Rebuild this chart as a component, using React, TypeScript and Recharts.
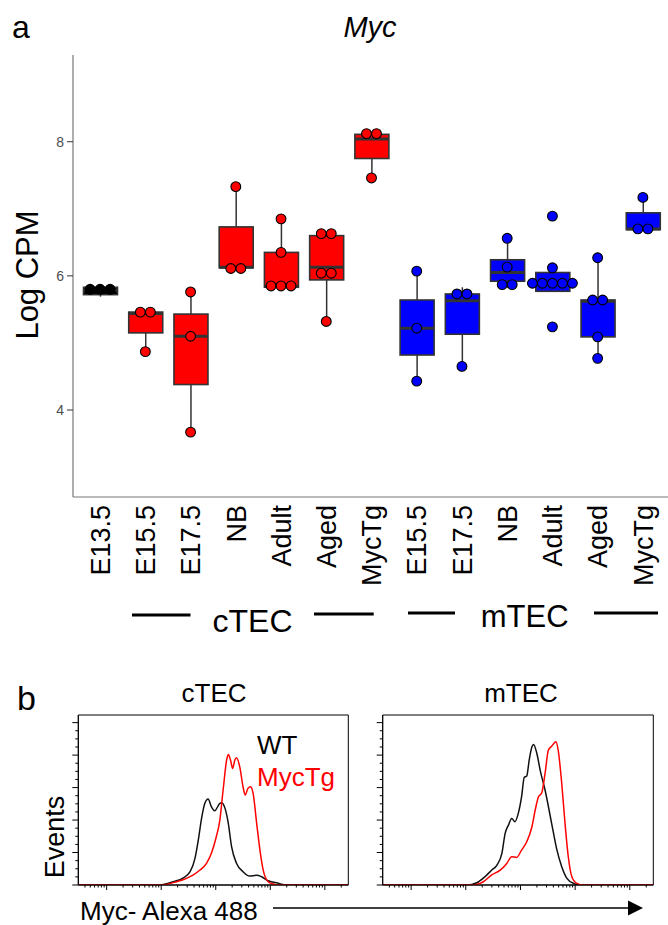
import React from 'react';
import { ComposedChart, Bar, Line, XAxis, YAxis, ReferenceArea } from 'recharts';

const FONT = "'Liberation Sans', Arial, Helvetica, sans-serif";

// ---------- Panel a: box plots ----------
const stages = ['E13.5', 'E15.5', 'E17.5', 'NB', 'Adult', 'Aged', 'MycTg', 'E15.5', 'E17.5', 'NB', 'Adult', 'Aged', 'MycTg'];
const lineages = ['TEC', 'cTEC', 'cTEC', 'cTEC', 'cTEC', 'cTEC', 'cTEC', 'mTEC', 'mTEC', 'mTEC', 'mTEC', 'mTEC', 'mTEC'];
const whiskerLow = [5.69, 4.87, 3.67, 6.11, 5.83, 5.32, 7.46, 4.43, 4.65, 5.82, 5.77, 4.77, 6.69];
const quartile1 = [5.72, 5.15, 4.38, 6.12, 5.83, 5.94, 7.75, 4.82, 5.13, 5.92, 5.77, 5.09, 6.69];
const medians = [5.79, 5.44, 5.10, 6.13, 5.84, 6.13, 8.04, 5.22, 5.63, 6.05, 5.89, 5.62, 6.70];
const quartile3 = [5.83, 5.46, 5.43, 6.73, 6.35, 6.60, 8.11, 5.64, 5.73, 6.24, 6.05, 5.64, 6.94];
const whiskerHigh = [5.87, 5.47, 5.76, 7.33, 6.85, 6.63, 8.13, 6.07, 5.83, 6.56, 6.12, 6.27, 7.17];
const samples: number[][] = [
  [5.8, 5.8, 5.8],
  [5.46, 5.46, 4.87],
  [5.76, 5.1, 3.67],
  [7.33, 6.11, 6.11],
  [6.85, 6.35, 5.85, 5.85, 5.85],
  [6.63, 6.63, 6.04, 6.04, 5.32],
  [8.12, 8.12, 7.46],
  [6.07, 5.22, 4.43],
  [5.73, 5.73, 4.65],
  [6.56, 6.13, 5.87, 5.87],
  [6.89, 6.12, 5.89, 5.89, 5.89, 5.89, 5.89, 5.24],
  [6.27, 5.64, 5.64, 5.09, 4.77],
  [7.17, 6.7, 6.7],
];
const yTicksA = [4, 6, 8];

const lineageFill: Record<string, string> = { TEC: '#000000', cTEC: '#FF0000', mTEC: '#0000FF' };
const MAX_DOTS = 8;
const DOT_STEP = 10;

const rows = stages.map((stage, i) => {
  const row: any = {
    key: `${lineages[i]}|${stage}`,
    lineage: lineages[i],
    whisker: [whiskerLow[i], whiskerHigh[i]],
    box: [quartile1[i], quartile3[i]],
    med: [medians[i], medians[i]],
  };
  const pts = samples[i];
  pts.forEach((v, j) => {
    const same = pts.filter((w) => w === v).length;
    const rank = pts.slice(0, j).filter((w) => w === v).length;
    row[`p${j}`] = v;
    row[`s${j}`] = rank - (same - 1) / 2;
  });
  return row;
});

const okNum = (...v: any[]) => v.every((n) => typeof n === 'number' && Number.isFinite(n));

const WhiskerShape = (p: any) => {
  const { x, y, width, height } = p;
  if (!okNum(x, y, width, height)) return <g />;
  const cx = x + width / 2;
  return <line x1={cx} x2={cx} y1={y} y2={y + height} stroke="#333333" strokeWidth={1.5} />;
};

const BoxShape = (p: any) => {
  const { x, y, width, height, payload } = p;
  if (!okNum(x, y, width, height)) return <g />;
  const top = Math.min(y, y + height);
  return (
    <rect x={x} y={top} width={width} height={Math.abs(height)}
      fill={lineageFill[payload.lineage]} stroke="#333333" strokeWidth={1.6} />
  );
};

const MedianShape = (p: any) => {
  const { x, y, width, height } = p;
  if (!okNum(x, y, width)) return <g />;
  const my = y + (okNum(height) ? height / 2 : 0);
  return <line x1={x} x2={x + width} y1={my} y2={my} stroke="#333333" strokeWidth={3} />;
};

const makeDot = (k: number) => (p: any) => {
  const { cx, cy, payload, index } = p;
  const key = `dot-${k}-${index}`;
  if (!payload || payload[`p${k}`] == null || !okNum(cx, cy)) return <g key={key} />;
  const off = payload[`s${k}`] * DOT_STEP;
  return (
    <circle key={key} cx={cx + off} cy={cy} r={4.9}
      fill={lineageFill[payload.lineage]} stroke="#000000" strokeWidth={1.1} />
  );
};

const StageTick = (p: any) => {
  const { x, y, payload } = p;
  const label = String(payload.value).split('|')[1];
  return (
    <text transform={`translate(${x},${y}) rotate(-90)`} textAnchor="end" dy="0.36em"
      fontSize={27} fontFamily={FONT} fill="#000000">{label}</text>
  );
};

// ---------- Panel b: flow histograms (x = log10 fluorescence, y = % of max) ----------
const cTecWT = [
  { d: 0.48, v: 0 }, { d: 1.976, v: 0 }, { d: 2.22, v: 2 }, { d: 2.4, v: 4.3 }, { d: 2.53, v: 8.2 },
  { d: 2.62, v: 16.6 }, { d: 2.68, v: 27.7 }, { d: 2.74, v: 41 }, { d: 2.8, v: 50.3 }, { d: 2.86, v: 52.9 },
  { d: 2.92, v: 48.2 }, { d: 2.98, v: 45.7 }, { d: 3.075, v: 50.3 }, { d: 3.11, v: 50.7 }, { d: 3.17, v: 47.2 },
  { d: 3.23, v: 38 }, { d: 3.29, v: 23.6 }, { d: 3.38, v: 13.4 }, { d: 3.5, v: 8.2 }, { d: 3.62, v: 5.5 },
  { d: 3.75, v: 6 }, { d: 3.84, v: 5.1 }, { d: 3.96, v: 2.6 }, { d: 4.11, v: 1.4 }, { d: 4.3, v: 0 }, { d: 5.43, v: 0 },
];
const cTecMycTg = [
  { d: 0.48, v: 0 }, { d: 1.98, v: 0 }, { d: 2.28, v: 2 }, { d: 2.465, v: 4.1 }, { d: 2.59, v: 6.2 },
  { d: 2.71, v: 9.2 }, { d: 2.83, v: 13.3 }, { d: 2.92, v: 19.5 }, { d: 3.01, v: 29.7 }, { d: 3.075, v: 40 },
  { d: 3.135, v: 58.5 }, { d: 3.2, v: 77 }, { d: 3.23, v: 80.4 }, { d: 3.27, v: 77 }, { d: 3.31, v: 71.8 },
  { d: 3.35, v: 77 }, { d: 3.38, v: 78.4 }, { d: 3.44, v: 72.8 }, { d: 3.5, v: 60.5 }, { d: 3.54, v: 55.4 },
  { d: 3.59, v: 59.5 }, { d: 3.64, v: 60.5 }, { d: 3.685, v: 56.4 }, { d: 3.75, v: 38 }, { d: 3.81, v: 21.5 },
  { d: 3.87, v: 9.2 }, { d: 3.96, v: 2 }, { d: 4.05, v: 0.6 }, { d: 4.17, v: 0 }, { d: 5.43, v: 0 },
];
const mTecWT = [
  { d: 0.48, v: 0 }, { d: 2.02, v: 0 }, { d: 2.2, v: 1.4 }, { d: 2.35, v: 5.1 }, { d: 2.475, v: 9.2 },
  { d: 2.57, v: 12.3 }, { d: 2.66, v: 19.5 }, { d: 2.72, v: 31.8 }, { d: 2.78, v: 36.9 }, { d: 2.84, v: 41 },
  { d: 2.9, v: 39 }, { d: 2.96, v: 44.1 }, { d: 3.02, v: 54.3 }, { d: 3.07, v: 66.3 }, { d: 3.115, v: 67.1 },
  { d: 3.16, v: 77 }, { d: 3.21, v: 85.1 }, { d: 3.24, v: 86.6 }, { d: 3.3, v: 81 }, { d: 3.36, v: 70.8 },
  { d: 3.45, v: 58.5 }, { d: 3.57, v: 38 }, { d: 3.66, v: 22.6 }, { d: 3.755, v: 11.3 }, { d: 3.85, v: 4.1 },
  { d: 3.97, v: 1 }, { d: 4.12, v: 0 }, { d: 5.43, v: 0 },
];
const mTecMycTg = [
  { d: 0.48, v: 0 }, { d: 2.14, v: 0 }, { d: 2.32, v: 2 }, { d: 2.475, v: 6.2 }, { d: 2.63, v: 9.2 },
  { d: 2.75, v: 13.3 }, { d: 2.84, v: 17.4 }, { d: 2.93, v: 17 }, { d: 3.02, v: 21.5 }, { d: 3.115, v: 26.6 },
  { d: 3.21, v: 35.9 }, { d: 3.27, v: 46.2 }, { d: 3.33, v: 54.3 }, { d: 3.39, v: 56.8 }, { d: 3.45, v: 68.7 },
  { d: 3.51, v: 83 }, { d: 3.57, v: 85.5 }, { d: 3.65, v: 88.2 }, { d: 3.69, v: 83 }, { d: 3.755, v: 62.6 },
  { d: 3.815, v: 38 }, { d: 3.875, v: 17.4 }, { d: 3.94, v: 5.1 }, { d: 4.03, v: 1 }, { d: 4.15, v: 0 }, { d: 5.43, v: 0 },
];

const FLOW_X_DOMAIN = [0.48, 5.43];
const FLOW_Y_DOMAIN = [0, 104.7];
const flowMajorX = [1, 2, 3, 4, 5];
const decadeSteps = [0.301, 0.477, 0.602, 0.699, 0.778, 0.845, 0.903, 0.954];
const flowXTicks: number[] = [];
[0, 1, 2, 3, 4, 5].forEach((dec) => {
  if (dec > 0) flowXTicks.push(dec);
  decadeSteps.forEach((s) => {
    const t = +(dec + s).toFixed(3);
    if (t > FLOW_X_DOMAIN[0] && t < FLOW_X_DOMAIN[1]) flowXTicks.push(t);
  });
});
flowXTicks.sort((a, b) => a - b);
const flowYTicks = [0, 5, 10, 15, 20, 25, 30, 35, 40, 45, 50, 55, 60, 65, 70, 75, 80, 85, 90, 95, 100];

const FlowXTick = (p: any) => {
  const { x, y, payload } = p;
  const major = flowMajorX.includes(payload.value);
  return <line x1={x} x2={x} y1={y} y2={y + (major ? 5 : 2.5)} stroke="#000000" strokeWidth={1} />;
};
const FlowYTick = (p: any) => {
  const { x, y, payload } = p;
  const major = payload.value % 20 === 0;
  return <line x1={x} x2={x - (major ? 6 : 3)} y1={y} y2={y} stroke="#000000" strokeWidth={1} />;
};

function FlowPanel(props: { wt: any[]; tg: any[]; width: number; yAxisWidth: number; marginRight: number }) {
  const { wt, tg, width, yAxisWidth, marginRight } = props;
  return (
    <ComposedChart width={width} height={195} margin={{ top: 15, right: marginRight, bottom: 0, left: 0 }}>
      <XAxis type="number" dataKey="d" domain={FLOW_X_DOMAIN} allowDataOverflow ticks={flowXTicks} interval={0}
        tickSize={0} tickMargin={0} tickLine={false} tick={<FlowXTick />} axisLine={{ stroke: '#000000' }} height={10} />
      <YAxis type="number" domain={FLOW_Y_DOMAIN} allowDataOverflow ticks={flowYTicks} interval={0}
        tickSize={0} tickMargin={0} tickLine={false} tick={<FlowYTick />} axisLine={{ stroke: '#000000' }} width={yAxisWidth} />
      <ReferenceArea x1={FLOW_X_DOMAIN[0]} x2={FLOW_X_DOMAIN[1]} y1={FLOW_Y_DOMAIN[0]} y2={FLOW_Y_DOMAIN[1]}
        fill="none" fillOpacity={0} stroke="#000000" strokeWidth={1} />
      <Line data={wt} dataKey="v" type="monotone" stroke="#111111" strokeWidth={1.5} dot={false} activeDot={false} isAnimationActive={false} />
      <Line data={tg} dataKey="v" type="monotone" stroke="#FF0000" strokeWidth={1.5} dot={false} activeDot={false} isAnimationActive={false} />
    </ComposedChart>
  );
}

export default function App() {
  const slots = Array.from({ length: MAX_DOTS }, (_, k) => k);
  const pad = { left: 4.5, right: 4.5 };
  return (
    <div style={{ position: 'absolute', left: 0, top: 0, width: 668, height: 925, overflow: 'hidden', background: '#ffffff', fontFamily: FONT }}>
      <div style={{ position: 'absolute', left: 0, top: 0 }}>
        <ComposedChart width={676} height={640} data={rows} margin={{ top: 55, right: 6, bottom: 0, left: 0 }}>
          <XAxis xAxisId="x" dataKey="key" type="category" interval={0} padding={pad} tickLine={false}
            axisLine={{ stroke: '#777777', strokeWidth: 1.2 }} height={143} tickSize={0} tickMargin={8} tick={<StageTick />} />
          <XAxis xAxisId="top" orientation="top" dataKey="key" type="category" padding={pad} height={0}
            tick={false} tickLine={false} axisLine={{ stroke: '#777777', strokeWidth: 1.2 }} />
          <XAxis xAxisId="xw" dataKey="key" type="category" padding={pad} hide />
          <XAxis xAxisId="xm" dataKey="key" type="category" padding={pad} hide />
          <YAxis type="number" domain={[2.703, 9.293]} ticks={yTicksA} allowDataOverflow width={73} tickSize={6} tickMargin={3}
            tick={{ fill: '#4D4D4D', fontSize: 14, fontFamily: FONT }} tickLine={{ stroke: '#333333' }}
            axisLine={{ stroke: '#777777', strokeWidth: 1.2 }} />
          <Bar xAxisId="xw" dataKey="whisker" barSize={34} shape={WhiskerShape} isAnimationActive={false} />
          <Bar xAxisId="x" dataKey="box" barSize={34} shape={BoxShape} isAnimationActive={false} />
          <Bar xAxisId="xm" dataKey="med" barSize={34} shape={MedianShape} isAnimationActive={false} />
          {slots.map((k) => (
            <Line key={k} xAxisId="x" dataKey={`p${k}`} stroke="none" dot={makeDot(k)} activeDot={false}
              isAnimationActive={false} legendType="none" />
          ))}
        </ComposedChart>
      </div>

      <div style={{ position: 'absolute', left: 0, top: 700 }}>
        <FlowPanel wt={cTecWT} tg={cTecMycTg} width={360} yAxisWidth={78.3} marginRight={11.7} />
      </div>
      <div style={{ position: 'absolute', left: 360, top: 700 }}>
        <FlowPanel wt={mTecWT} tg={mTecMycTg} width={300} yAxisWidth={22.7} marginRight={6.7} />
      </div>

      <svg width={668} height={925} style={{ position: 'absolute', left: 0, top: 0, pointerEvents: 'none' }}>
        <g fontFamily={FONT} fill="#000000">
          <text x={12} y={38} fontSize={32}>a</text>
          <text x={370} y={37} fontSize={29} fontStyle="italic" textAnchor="middle">Myc</text>
          <text transform="translate(38,275) rotate(-90)" fontSize={31} textAnchor="middle">Log CPM</text>
          <text x={252.5} y={632} fontSize={32} textAnchor="middle">cTEC</text>
          <text x={524.7} y={627} fontSize={31} textAnchor="middle">mTEC</text>
          <text x={17} y={710} fontSize={34}>b</text>
          <text x={214} y={702} fontSize={26} textAnchor="middle">cTEC</text>
          <text x={521} y={702} fontSize={26} textAnchor="middle">mTEC</text>
          <text x={257} y={754} fontSize={26}>WT</text>
          <text x={257} y={786} fontSize={26} fill="#FF0000">MycTg</text>
          <text transform="translate(64,837) rotate(-90)" fontSize={27} textAnchor="middle">Events</text>
          <text x={80} y={920} fontSize={26}>Myc- Alexa 488</text>
        </g>
        <g stroke="#000000" strokeWidth={3}>
          <line x1={132} x2={190.5} y1={615} y2={615} />
          <line x1={314} x2={373.7} y1={614} y2={614} />
          <line x1={408} x2={455} y1={613} y2={613} />
          <line x1={594} x2={658} y1={613} y2={613} />
        </g>
        <line x1={273} x2={630} y1={908} y2={908} stroke="#000000" strokeWidth={1.5} />
        <polygon points="628,900.5 643,908 628,915.5" fill="#000000" />
      </svg>
    </div>
  );
}
